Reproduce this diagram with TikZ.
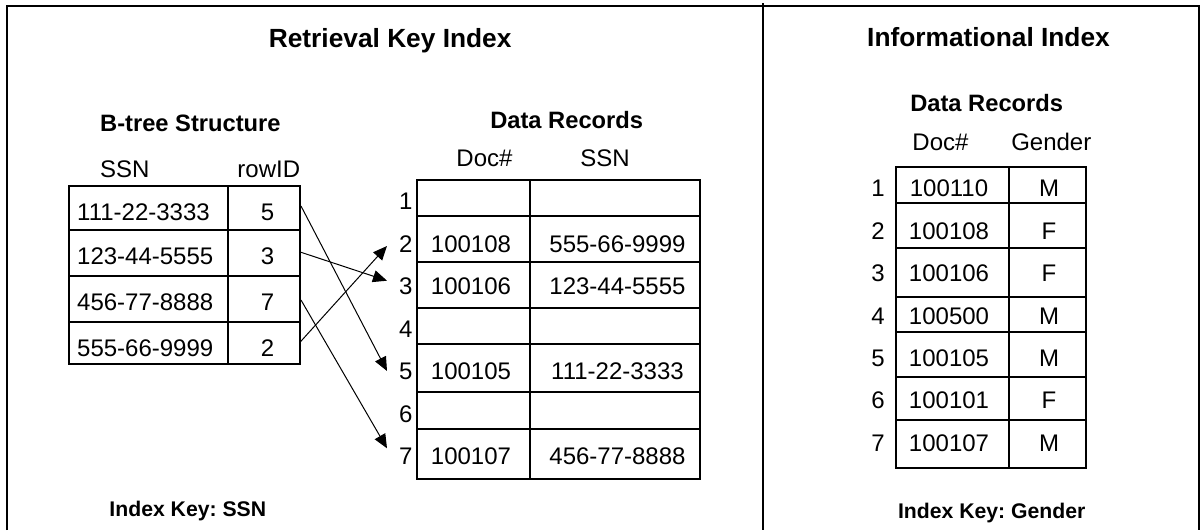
\documentclass[tikz,border=0pt]{standalone}
\usepackage{fontspec}
\setmainfont{Liberation Sans}
\usetikzlibrary{arrows.meta}
\frenchspacing

\tikzset{
  frame/.style={line width=1.9pt},
  grid/.style={line width=1.8pt},
  link/.style={line width=1pt,-{Triangle[length=14pt,width=12pt]}},
  title/.style={font=\fontsize{26.3}{30}\selectfont\bfseries,anchor=base,inner sep=0pt},
  subtitle/.style={font=\fontsize{23.7}{28}\selectfont\bfseries,anchor=base,inner sep=0pt},
  keynote/.style={font=\fontsize{21.2}{25}\selectfont\bfseries,anchor=base,inner sep=0pt},
  cell/.style={font=\fontsize{24}{28}\selectfont,anchor=base,inner sep=0pt},
  num/.style={font=\fontsize{24}{28}\selectfont,anchor=base east,inner sep=0pt},
  lcell/.style={font=\fontsize{24}{28}\selectfont,anchor=base west,inner sep=0pt},
}

\begin{document}
\begin{tikzpicture}[x=1pt,y=-1pt]
\useasboundingbox (0,0) rectangle (1204,530);

% outer frame and the divider between the two panels
\draw[frame] (6.7,530) -- (6.7,5.7) -- (1199,5.7) -- (1199,530);
\draw[frame] (762.7,3) -- (762.7,530);

% ---------------- left panel ----------------
\node[title] (ttlR) at (390.2,47.3) {Retrieval Key Index};

% B-tree structure
\node[subtitle,anchor=base west] (btT) at (100,131.7) {B-tree Structure};
\node[lcell] (btH1) at (100,177.3) {SSN};
\node[cell] (btH2) at (268.8,177.3) {rowID};

\draw[grid] (69.3,185.7) rectangle (300,364.3);
\draw[grid] (228,185.7) -- (228,364.3);
\foreach \y in {230,275.7,321.7}
  \draw[grid] (69.3,\y) -- (300,\y);

\node[lcell] (bk1) at (77,220.5) {111-22-3333};
\node[lcell] (bk2) at (77,264)   {123-44-5555};
\node[lcell] (bk3) at (77,310.5) {456-77-8888};
\node[lcell] (bk4) at (77,356)   {555-66-9999};
\node[cell] (br1) at (267.5,220.5) {5};
\node[cell] (br2) at (267.5,264)   {3};
\node[cell] (br3) at (267.5,310.5) {7};
\node[cell] (br4) at (267.5,356)   {2};

% data records (retrieval)
\node[subtitle] (drT) at (566.7,128.3) {Data Records};
\node[cell] (drH1) at (484.5,166.7) {Doc\#};
\node[cell] (drH2) at (605,166.7) {SSN};

\draw[grid] (417.3,180) rectangle (700,479);
\draw[grid] (530,180) -- (530,479);
\foreach \y in {215.7,261.7,308.3,344.3,392.3,429.3}
  \draw[grid] (417.3,\y) -- (700,\y);

\foreach \i/\y in {1/209.7,2/252.2,3/294.7,4/337.2,5/379.7,6/422.2,7/464.7}
  \node[num] (dn\i) at (412.7,\y) {\i};

\node[cell] (dd2) at (471,252.2) {100108};
\node[cell] (ds2) at (617.5,252.2) {555-66-9999};
\node[cell] (dd3) at (471,294.7) {100106};
\node[cell] (ds3) at (617.5,294.7) {123-44-5555};
\node[cell] (dd5) at (471,379.7) {100105};
\node[cell] (ds5) at (617.5,379.7) {111-22-3333};
\node[cell] (dd7) at (471,464.7) {100107};
\node[cell] (ds7) at (617.5,464.7) {456-77-8888};

% pointers from rowID to the record rows
\coordinate (s1) at (301,206);
\coordinate (s2) at (301,252.3);
\coordinate (s3) at (301,300);
\coordinate (s4) at (300.5,341.7);
\coordinate (t5) at (387,371);
\coordinate (t3) at (387,280.7);
\coordinate (t7) at (387,448.3);
\coordinate (t2) at (387,246);
\draw[link] (s1) -- (t5);
\draw[link] (s2) -- (t3);
\draw[link] (s3) -- (t7);
\draw[link] (s4) -- (t2);

\node[keynote] (kR) at (187.8,516.7) {Index Key: SSN};

% ---------------- right panel ----------------
\node[title] (ttlI) at (988.5,46.7) {Informational Index};
\node[subtitle] (irT) at (986.7,111) {Data Records};
\node[cell] (irH1) at (940.5,150.7) {Doc\#};
\node[cell] (irH2) at (1051.3,150.7) {Gender};

\draw[grid] (896,167.3) rectangle (1086,468.3);
\draw[grid] (1009,167.3) -- (1009,468.3);
\foreach \y in {202.7,248.3,296.7,332.3,377.3,420}
  \draw[grid] (896,\y) -- (1086,\y);

\foreach \i/\y/\d/\g in {1/196.3/100110/M,2/239/100108/F,3/281.3/100106/F,4/324/100500/M,5/366.3/100105/M,6/408/100101/F,7/451.3/100107/M}{
  \node[num] (in\i) at (885,\y) {\i};
  \node[cell] (id\i) at (949,\y) {\d};
  \node[cell] (ig\i) at (1049,\y) {\g};
}

\node[keynote] (kI) at (991.7,518.3) {Index Key: Gender};
\end{tikzpicture}
\end{document}
